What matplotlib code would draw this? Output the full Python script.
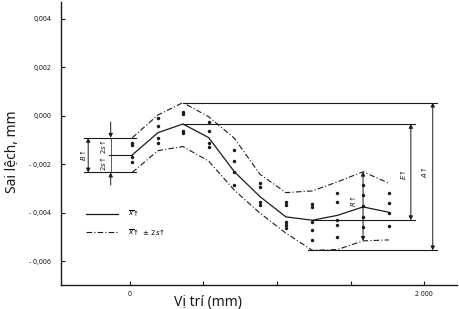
import matplotlib
matplotlib.use("Agg")
import matplotlib.pyplot as plt
from matplotlib.lines import Line2D

# target positions along the axis (mm)
positions = [15, 190, 360, 535, 710, 885, 1060, 1240, 1410, 1585, 1760]

# mean deviation and the +/- 2s band at each position (mm)
mean = [-0.00161, -0.00069, -0.00033, -0.00089, -0.00230, -0.00333,
        -0.00416, -0.00430, -0.00410, -0.00375, -0.00397]
upper = [-0.00090, 0.00004, 0.00055, -0.00003, -0.00092, -0.00241,
         -0.00316, -0.00309, -0.00272, -0.00230, -0.00277]
lower = [-0.00233, -0.00143, -0.00126, -0.00186, -0.00306, -0.00401,
         -0.00483, -0.00554, -0.00551, -0.00515, -0.00511]

# individual readings at each position
readings = [
    [-0.00113, -0.00120, -0.00168, -0.00191],
    [-0.00010, -0.00041, -0.00092, -0.00110],
    [0.00018, 0.00008, -0.00061, -0.00071],
    [-0.00026, -0.00061, -0.00113, -0.00127],
    [-0.00140, -0.00185, -0.00230, -0.00285],
    [-0.00278, -0.00292, -0.00354, -0.00368],
    [-0.00354, -0.00368, -0.00437, -0.00450, -0.00464],
    [-0.00361, -0.00375, -0.00437, -0.00471, -0.00512],
    [-0.00319, -0.00354, -0.00430, -0.00450, -0.00501],
    [-0.00285, -0.00326, -0.00372, -0.00416, -0.00457],
    [-0.00317, -0.00358, -0.00402, -0.00453],
]

y_ticks = [0.004, 0.002, 0.000, -0.002, -0.004, -0.006]
y_ticklabels = ["0,004", "0,002", "0,000", "- 0,002", "- 0,004", "- 0,006"]
x_ticks = [0, 500, 1000, 1500, 2000]
x_ticklabels = ["0", "", "", "", "2 000"]

ink = "#1a1a1a"
plt.rcParams['font.family'] = ['Noto Sans', 'DejaVu Sans']
plt.rcParams['mathtext.fontset'] = 'dejavusans'

fig = plt.figure(figsize=(4.6, 3.09), dpi=100)
ax = fig.add_axes([61 / 460, 24 / 309, 396 / 460, 283 / 309])

ax.set_xlim(-469, 2224)
ax.set_ylim(-0.00697, 0.0047)
for side in ["top", "right"]:
    ax.spines[side].set_visible(False)
for side in ["left", "bottom"]:
    ax.spines[side].set_color(ink)
    ax.spines[side].set_linewidth(1.0)

ax.set_yticks(y_ticks)
ax.set_yticklabels(y_ticklabels, fontsize=5, fontweight='bold')
ax.set_xticks(x_ticks)
ax.set_xticklabels(x_ticklabels, fontsize=5, fontweight='bold')
ax.tick_params(direction='in', length=3, width=0.8, colors=ink, pad=4)
ax.tick_params(axis='y', pad=7)

ax.set_ylabel("Sai lệch, mm", fontsize=10, color=ink)
ax.yaxis.set_label_coords(-0.105, 0.47)
ax.set_xlabel("Vị trí (mm)", fontsize=10, color=ink)
ax.xaxis.set_label_coords((208 - 61) / 396, -0.035)

# curves
ax.plot(positions, mean, '-', color=ink, lw=0.9)
ax.plot(positions, upper, color=ink, lw=0.8, linestyle=(0, (5, 2, 1, 2)))
ax.plot(positions, lower, color=ink, lw=0.8, linestyle=(0, (5, 2, 1, 2)))

for x, vals in zip(positions, readings):
    ax.plot([x] * len(vals), vals, 'o', color=ink, ms=2.5, mew=0)

# reference lines for A and E
i_top = upper.index(max(upper))
i_bot = lower.index(min(lower))
i_mmax = mean.index(max(mean))
i_mmin = mean.index(min(mean))
line_kw = dict(color=ink, lw=0.8)
ax.plot([positions[i_top], 2086], [upper[i_top]] * 2, **line_kw)
ax.plot([positions[i_bot] - 30, 2086], [lower[i_bot]] * 2, **line_kw)
ax.plot([positions[i_mmax], 1939], [mean[i_mmax]] * 2, **line_kw)
ax.plot([positions[i_mmin], 1939], [mean[i_mmin]] * 2, **line_kw)

arrow = dict(arrowstyle='<|-|>', color=ink, lw=0.7, mutation_scale=6,
             shrinkA=0, shrinkB=0)
ax.annotate('', xy=(2059, upper[i_top]), xytext=(2059, lower[i_bot]),
            arrowprops=arrow)
ax.annotate('', xy=(1910, mean[i_mmax]), xytext=(1910, mean[i_mmin]),
            arrowprops=arrow)
ax.annotate('', xy=(positions[9], upper[9]), xytext=(positions[9], lower[9]),
            arrowprops=arrow)

lab = dict(fontsize=5, rotation=90, ha='center', va='center', color=ink)
ax.text(2000, (upper[i_top] + lower[i_bot]) / 2 + 0.0002, r"$A\!\uparrow$", **lab)
ax.text(1855, (mean[i_mmax] + mean[i_mmin]) / 2 - 0.0001, r"$E\!\uparrow$", **lab)
ax.text(1517, (upper[9] + lower[9]) / 2 + 0.0002, r"$R\!\uparrow$", **lab)

# B annotation at the first position
ax.plot([-313, 41], [upper[0]] * 2, **line_kw)
ax.plot([-313, 41], [lower[0]] * 2, **line_kw)
ax.plot([-143, positions[0]], [mean[0]] * 2, **line_kw)
ax.annotate('', xy=(-284, upper[0]), xytext=(-284, lower[0]), arrowprops=arrow)
small = dict(arrowstyle='-|>', color=ink, lw=0.7, mutation_scale=6,
             shrinkA=0, shrinkB=0)
ax.annotate('', xy=(-131, upper[0]), xytext=(-131, upper[0] + 0.00065),
            arrowprops=small)
ax.annotate('', xy=(-131, lower[0]), xytext=(-131, lower[0] - 0.00052),
            arrowprops=small)
ax.plot([-131, -131], [upper[0], lower[0]], color=ink, lw=0.5)
ax.text(-320, mean[0], r"$B\!\uparrow$", **lab)
ax.text(-180, (upper[0] + mean[0]) / 2, r"$2s\!\uparrow$", **lab)
ax.text(-180, (lower[0] + mean[0]) / 2, r"$2s\!\uparrow$", **lab)

handles = [Line2D([], [], color=ink, lw=0.9),
           Line2D([], [], color=ink, lw=0.8, linestyle=(0, (5, 2, 1, 2)))]
labels = [r"$\overline{x}\!\uparrow$", r"$\overline{x}\!\uparrow\,\pm\,2s\!\uparrow$"]
ax.legend(handles, labels, loc='upper left', bbox_to_anchor=((80 - 61) / 396, (285 - 202) / 283),
          frameon=False, fontsize=5, handlelength=4.5, labelspacing=1.2, handletextpad=1.5)

fig.savefig("out.png", dpi=100)
